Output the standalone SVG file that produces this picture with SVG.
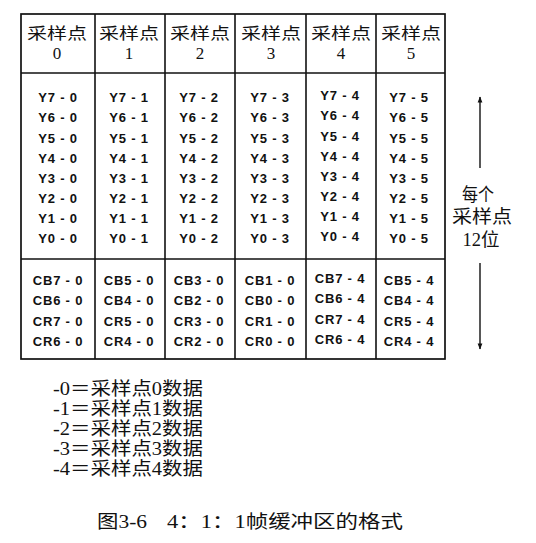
<svg xmlns="http://www.w3.org/2000/svg" width="536" height="543" viewBox="0 0 536 543">
  <defs>
    <style>
      .frame { fill: none; stroke: #111; stroke-width: 1.7; }
      .grid { stroke: #111; stroke-width: 1.6; }
      .hd { font-family: "Liberation Serif", "Noto Sans CJK SC", serif; font-size: 16px; fill: #111; text-anchor: middle; }
      .num { font-family: "Liberation Serif", serif; font-size: 17px; fill: #111; text-anchor: middle; }
      .bit { font-family: "Liberation Sans", Arial, sans-serif; font-weight: bold; font-size: 13px; letter-spacing: 0.8px; fill: #111; text-anchor: middle; }
      .note { font-family: "Liberation Serif", "Noto Sans CJK SC", serif; font-size: 18px; fill: #111; }
      .side { font-family: "Liberation Serif", "Noto Sans CJK SC", serif; font-size: 18px; fill: #111; text-anchor: middle; }
      .arrow { stroke: #111; stroke-width: 1.4; fill: none; }
    </style>
    <marker id="head" viewBox="0 0 10 10" refX="9" refY="5" markerWidth="10" markerHeight="6" markerUnits="userSpaceOnUse" orient="auto">
      <path d="M0,1 L10,5 L0,9 Z" fill="#111"/>
    </marker>
  </defs>

  <!-- table frame and rules -->
  <g id="table">
    <rect class="frame" x="21" y="14" width="424" height="345"/>
    <line class="grid" x1="21" y1="73" x2="445" y2="73"/>
    <line class="grid" x1="21" y1="259" x2="445" y2="259"/>
    <line class="grid" x1="95" y1="14" x2="95" y2="359"/>
    <line class="grid" x1="165" y1="14" x2="165" y2="359"/>
    <line class="grid" x1="235" y1="14" x2="235" y2="359"/>
    <line class="grid" x1="306" y1="14" x2="306" y2="359"/>
    <line class="grid" x1="376" y1="14" x2="376" y2="359"/>
  </g>

  <!-- sample 0 -->
  <g id="sample0">
    <text class="hd" x="57" y="39" textLength="60" lengthAdjust="spacingAndGlyphs">采样点</text>
    <text class="num" x="57" y="59">0</text>
    <text class="bit" x="58" y="102">Y7 - 0</text>
    <text class="bit" x="58" y="122">Y6 - 0</text>
    <text class="bit" x="58" y="143">Y5 - 0</text>
    <text class="bit" x="58" y="163">Y4 - 0</text>
    <text class="bit" x="58" y="183">Y3 - 0</text>
    <text class="bit" x="58" y="203">Y2 - 0</text>
    <text class="bit" x="58" y="223">Y1 - 0</text>
    <text class="bit" x="58" y="243">Y0 - 0</text>
    <text class="bit" x="58" y="285">CB7 - 0</text>
    <text class="bit" x="58" y="305">CB6 - 0</text>
    <text class="bit" x="58" y="326">CR7 - 0</text>
    <text class="bit" x="58" y="346">CR6 - 0</text>
  </g>

  <!-- sample 1 -->
  <g id="sample1">
    <text class="hd" x="129" y="39" textLength="60" lengthAdjust="spacingAndGlyphs">采样点</text>
    <text class="num" x="129" y="59">1</text>
    <text class="bit" x="129" y="102">Y7 - 1</text>
    <text class="bit" x="129" y="122">Y6 - 1</text>
    <text class="bit" x="129" y="143">Y5 - 1</text>
    <text class="bit" x="129" y="163">Y4 - 1</text>
    <text class="bit" x="129" y="183">Y3 - 1</text>
    <text class="bit" x="129" y="203">Y2 - 1</text>
    <text class="bit" x="129" y="223">Y1 - 1</text>
    <text class="bit" x="129" y="243">Y0 - 1</text>
    <text class="bit" x="129" y="285">CB5 - 0</text>
    <text class="bit" x="129" y="305">CB4 - 0</text>
    <text class="bit" x="129" y="326">CR5 - 0</text>
    <text class="bit" x="129" y="346">CR4 - 0</text>
  </g>

  <!-- sample 2 -->
  <g id="sample2">
    <text class="hd" x="200" y="39" textLength="60" lengthAdjust="spacingAndGlyphs">采样点</text>
    <text class="num" x="200" y="59">2</text>
    <text class="bit" x="199" y="102">Y7 - 2</text>
    <text class="bit" x="199" y="122">Y6 - 2</text>
    <text class="bit" x="199" y="143">Y5 - 2</text>
    <text class="bit" x="199" y="163">Y4 - 2</text>
    <text class="bit" x="199" y="183">Y3 - 2</text>
    <text class="bit" x="199" y="203">Y2 - 2</text>
    <text class="bit" x="199" y="223">Y1 - 2</text>
    <text class="bit" x="199" y="243">Y0 - 2</text>
    <text class="bit" x="199" y="285">CB3 - 0</text>
    <text class="bit" x="199" y="305">CB2 - 0</text>
    <text class="bit" x="199" y="326">CR3 - 0</text>
    <text class="bit" x="199" y="346">CR2 - 0</text>
  </g>

  <!-- sample 3 -->
  <g id="sample3">
    <text class="hd" x="271" y="39" textLength="60" lengthAdjust="spacingAndGlyphs">采样点</text>
    <text class="num" x="271" y="59">3</text>
    <text class="bit" x="270" y="102">Y7 - 3</text>
    <text class="bit" x="270" y="122">Y6 - 3</text>
    <text class="bit" x="270" y="143">Y5 - 3</text>
    <text class="bit" x="270" y="163">Y4 - 3</text>
    <text class="bit" x="270" y="183">Y3 - 3</text>
    <text class="bit" x="270" y="203">Y2 - 3</text>
    <text class="bit" x="270" y="223">Y1 - 3</text>
    <text class="bit" x="270" y="243">Y0 - 3</text>
    <text class="bit" x="270" y="285">CB1 - 0</text>
    <text class="bit" x="270" y="305">CB0 - 0</text>
    <text class="bit" x="270" y="326">CR1 - 0</text>
    <text class="bit" x="270" y="346">CR0 - 0</text>
  </g>

  <!-- sample 4 -->
  <g id="sample4">
    <text class="hd" x="341" y="39" textLength="60" lengthAdjust="spacingAndGlyphs">采样点</text>
    <text class="num" x="341" y="59">4</text>
    <text class="bit" x="340" y="100">Y7 - 4</text>
    <text class="bit" x="340" y="120">Y6 - 4</text>
    <text class="bit" x="340" y="141">Y5 - 4</text>
    <text class="bit" x="340" y="161">Y4 - 4</text>
    <text class="bit" x="340" y="181">Y3 - 4</text>
    <text class="bit" x="340" y="201">Y2 - 4</text>
    <text class="bit" x="340" y="221">Y1 - 4</text>
    <text class="bit" x="340" y="241">Y0 - 4</text>
    <text class="bit" x="340" y="283">CB7 - 4</text>
    <text class="bit" x="340" y="303">CB6 - 4</text>
    <text class="bit" x="340" y="324">CR7 - 4</text>
    <text class="bit" x="340" y="344">CR6 - 4</text>
  </g>

  <!-- sample 5 -->
  <g id="sample5">
    <text class="hd" x="411" y="39" textLength="60" lengthAdjust="spacingAndGlyphs">采样点</text>
    <text class="num" x="411" y="59">5</text>
    <text class="bit" x="409" y="102">Y7 - 5</text>
    <text class="bit" x="409" y="122">Y6 - 5</text>
    <text class="bit" x="409" y="143">Y5 - 5</text>
    <text class="bit" x="409" y="163">Y4 - 5</text>
    <text class="bit" x="409" y="183">Y3 - 5</text>
    <text class="bit" x="409" y="203">Y2 - 5</text>
    <text class="bit" x="409" y="223">Y1 - 5</text>
    <text class="bit" x="409" y="243">Y0 - 5</text>
    <text class="bit" x="409" y="285">CB5 - 4</text>
    <text class="bit" x="409" y="305">CB4 - 4</text>
    <text class="bit" x="409" y="326">CR5 - 4</text>
    <text class="bit" x="409" y="346">CR4 - 4</text>
  </g>

  <!-- bits per sample label -->
  <g id="bits-per-sample">
    <text class="side" x="478" y="201" textLength="32" lengthAdjust="spacingAndGlyphs">每个</text>
    <text class="side" x="482" y="223" textLength="60" lengthAdjust="spacingAndGlyphs">采样点</text>
    <text class="side" x="481" y="246" textLength="37" lengthAdjust="spacingAndGlyphs">12位</text>
  </g>

  <!-- span arrows -->
  <g id="connectors">
    <line class="arrow" x1="480" y1="168" x2="480" y2="97" marker-end="url(#head)"/>
    <line class="arrow" x1="480" y1="263" x2="480" y2="349" marker-end="url(#head)"/>
  </g>

  <!-- legend -->
  <g id="legend">
    <text class="note" x="53" y="395" textLength="150" lengthAdjust="spacingAndGlyphs">-0＝采样点0数据</text>
    <text class="note" x="53" y="415" textLength="150" lengthAdjust="spacingAndGlyphs">-1＝采样点1数据</text>
    <text class="note" x="53" y="435" textLength="150" lengthAdjust="spacingAndGlyphs">-2＝采样点2数据</text>
    <text class="note" x="53" y="455" textLength="150" lengthAdjust="spacingAndGlyphs">-3＝采样点3数据</text>
    <text class="note" x="53" y="475" textLength="150" lengthAdjust="spacingAndGlyphs">-4＝采样点4数据</text>
  </g>

  <!-- caption -->
  <g id="caption">
    <text class="note" x="97" y="528" textLength="50" lengthAdjust="spacingAndGlyphs">图3-6</text>
    <text class="note" x="167" y="528" textLength="236" lengthAdjust="spacingAndGlyphs">4：1：1帧缓冲区的格式</text>
  </g>
</svg>
